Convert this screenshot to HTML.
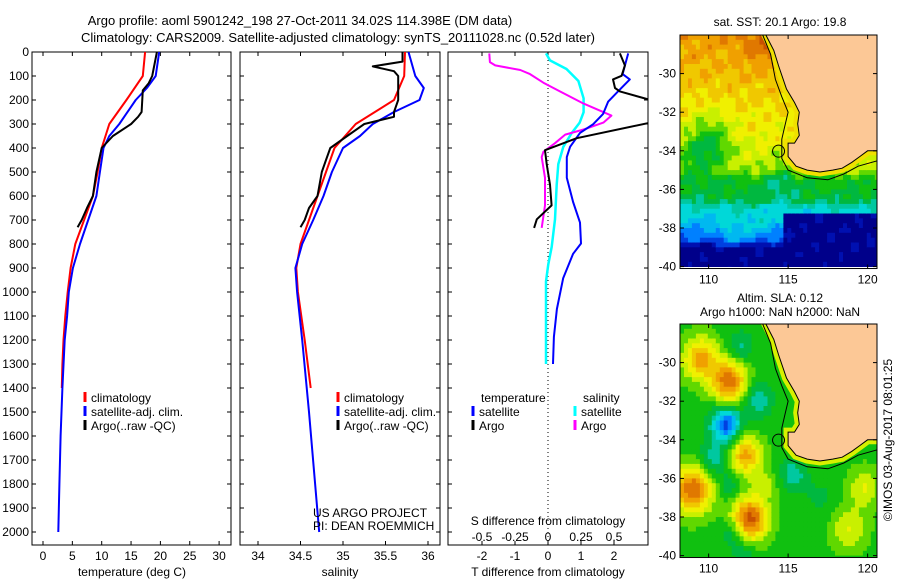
<!DOCTYPE html>
<html><head><meta charset="utf-8">
<style>
html,body{margin:0;padding:0;background:#fff;}
svg{display:block;font-family:"Liberation Sans",sans-serif;}
</style></head>
<body>
<svg id="chart" width="900" height="580" viewBox="0 0 900 580" xmlns="http://www.w3.org/2000/svg">
<defs>
<clipPath id="c1"><rect x="32" y="52" width="199" height="493"/></clipPath>
<clipPath id="c2"><rect x="240" y="52" width="200" height="493"/></clipPath>
<clipPath id="c3"><rect x="448" y="52" width="200" height="493"/></clipPath>
<clipPath id="cm1"><rect x="680" y="35" width="197" height="232"/></clipPath>
<clipPath id="cm2"><rect x="680" y="324" width="197" height="233"/></clipPath>
</defs>
<g font-size="13" text-anchor="middle" fill="#000">
<text x="300" y="25">Argo profile: aoml 5901242_198 27-Oct-2011 34.02S 114.398E (DM data)</text>
<text x="338" y="42">Climatology: CARS2009. Satellite-adjusted climatology: synTS_20111028.nc (0.52d later)</text>
</g>
<g id="p1"></g>
<g id="p2"></g>
<g id="p3"></g>
<g id="m1"></g>
<g id="m2"></g>
<text x="0" y="0" font-size="12" text-anchor="middle" transform="translate(892,440) rotate(-90)">©IMOS 03-Aug-2017 08:01:25</text>
</svg>
<script>
// ---- data ----
const depthTicks=[0,100,200,300,400,500,600,700,800,900,1000,1100,1200,1300,1400,1500,1600,1700,1800,1900,2000];
const tempTicks=[0,5,10,15,20,25,30];
const salTicks=[34,34.5,35,35.5,36];
const tdiffTicks=[-2,-1,0,1,2];
const sdiffTicks=[-0.5,-0.25,0,0.25,0.5];
const sdiffTickLabels=["-0.5","-0.25","0","0.25","0.5"];

const climTempDepth=[0,100,200,300,400,500,600,700,800,900,1000,1100,1200,1300,1400];
const climTemp=[17.4,17,14.2,11.3,10,9.3,8.5,7,5.5,4.7,4.2,3.8,3.5,3.3,3.2];
const satTempDepth=[0,100,150,200,300,350,400,500,600,700,800,900,1000,1100,1200,1400,1600,1800,2000];
const satTemp=[19.8,19.2,17.7,15.8,13,11.3,10.3,9.7,9.1,7.7,6.3,5.1,4.4,4.1,3.7,3.3,3,2.8,2.6];
const argoTempDepth=[0,100,130,160,250,270,300,350,400,500,600,650,700,730];
const argoTemp=[19.4,18.6,18,17,16.8,16.2,15,11.9,10,9.1,8.5,7.5,6.6,5.9];

const climSalDepth=[0,100,200,300,400,500,600,700,800,900,1000,1200,1400];
const climSal=[35.73,35.72,35.6,35.15,34.9,34.8,34.7,34.6,34.5,34.45,34.47,34.55,34.62];
const satSalDepth=[0,100,150,200,250,300,350,400,500,600,700,800,900,1000,1200,1500,2000];
const satSal=[35.77,35.85,35.95,35.9,35.6,35.35,35.2,35.0,34.87,34.77,34.65,34.52,34.44,34.46,34.52,34.6,34.72];
const argoSalDepth=[0,40,60,80,100,150,200,250,270,300,350,400,450,500,600,650,700,730];
const argoSal=[35.7,35.7,35.35,35.6,35.65,35.65,35.65,35.6,35.6,35.25,35.05,34.85,34.8,34.75,34.7,34.6,34.55,34.5];

const satTdiffDepth=[6,92,114,164,207,258,301,337,395,438,524,625,711,798,841,942,1071,1187,1300];
const satTdiff=[2.43,2.26,2.48,2.12,1.82,1.67,1.37,0.97,0.67,0.57,0.57,0.76,0.97,1.0,0.76,0.46,0.27,0.18,0.15];
const argoTdiffDepth=[6,56,99,114,150,164,200,240,270,294,359,409,467,553,639,697,733];
const argoTdiff=[2.18,2.33,2.23,1.97,2.03,2.18,3.1,4.5,4.5,3.1,0.87,-0.09,-0.04,0.06,0.11,-0.34,-0.42];
const satSdiffDepth=[6,35,71,121,193,251,294,337,395,467,553,697,812,884,956,1100,1300];
const satSdiff=[-0.015,0.015,0.14,0.23,0.27,0.27,0.24,0.18,0.116,0.078,0.066,0.053,0.028,0.002,-0.015,-0.015,-0.015];
const argoSdiffDepth=[6,42,56,75,92,128,164,215,265,294,323,344,380,416,438,524,639,733];
const argoSdiff=[-0.445,-0.44,-0.40,-0.21,-0.136,-0.035,0.09,0.27,0.48,0.42,0.27,0.13,0.053,-0.035,-0.048,-0.023,-0.023,-0.048];

const latTicks=[-30,-32,-34,-36,-38,-40];
const lonTicks=[110,115,120];
const argoLon=114.398, argoLat=-34.02;

// ---- helpers ----
const NS="http://www.w3.org/2000/svg";
const YB=545;
function mk(tag,attrs,parent){const e=document.createElementNS(NS,tag);for(const k in attrs)e.setAttribute(k,attrs[k]);parent.appendChild(e);return e;}
const yD=d=>52+d*0.24;
const xT=t=>43+t*5.87;
const xS=s=>258+(s-34)*85;
const xTd=v=>548+v*33;
const xSd=v=>548+v*132;

function frame(g,x0,x1){
  const r=mk('rect',{x:x0,y:52,width:x1-x0,height:YB-52,fill:'none',stroke:'#000','stroke-width':1},g);
  
  
  depthTicks.forEach(d=>{
    mk('line',{x1:x0,x2:x0+4,y1:yD(d),y2:yD(d),stroke:'#000'},g);
    mk('line',{x1:x1-4,x2:x1,y1:yD(d),y2:yD(d),stroke:'#000'},g);
  });
}
function xticks(g,ticks,labels,xf,y,name){
  ticks.forEach((t,i)=>{
    mk('line',{x1:xf(t),x2:xf(t),y1:YB-4,y2:YB,stroke:'#000'},g);
    mk('line',{x1:xf(t),x2:xf(t),y1:52,y2:56,stroke:'#000'},g);
    const tx=mk('text',{x:xf(t),y:y,'font-size':12,'text-anchor':'middle'},g);
    tx.textContent=labels[i];
    
    
  });
}
function series(g,depths,vals,xf,color,w,clip,name){
  const pts=depths.map((d,i)=>xf(vals[i]).toFixed(1)+','+yD(d).toFixed(1)).join(' ');
  const p=mk('polyline',{points:pts,fill:'none',stroke:color,'stroke-width':w,'clip-path':'url(#'+clip+')','stroke-linejoin':'round'},g);
  
  
}
function label(g,x,y,txt,name,anchor,size){
  const t=mk('text',{x:x,y:y,'font-size':size||12,'text-anchor':anchor||'start'},g);
  t.textContent=txt;
  
  
  return t;
}
function legend(g,x,y,color,txt,name){
  const l=mk('line',{x1:x,x2:x,y1:y-10,y2:y,stroke:color,'stroke-width':3},g);
  
  
  label(g,x+6,y,txt,name);
}

// ---- panel 1 ----
const p1=document.getElementById('p1');
frame(p1,32,231);
depthTicks.forEach(d=>label(p1,29,yD(d)+4,String(d),'depth-tick-label','end'));
xticks(p1,tempTicks,tempTicks.map(String),xT,560,'temperature-tick-label');
series(p1,climTempDepth,climTemp,xT,'#f00',2,'c1','climatology-temperature-line');
series(p1,satTempDepth,satTemp,xT,'#00f',2,'c1','satellite-temperature-line');
series(p1,argoTempDepth,argoTemp,xT,'#000',2,'c1','argo-temperature-line');
label(p1,132,576,'temperature (deg C)','x-axis-title-temperature','middle');
legend(p1,85,402,'#f00','climatology','legend-climatology');
legend(p1,85,416,'#00f','satellite-adj. clim.','legend-satellite');
legend(p1,85,430,'#000','Argo(..raw -QC)','legend-argo');

// ---- panel 2 ----
const p2=document.getElementById('p2');
frame(p2,240,440);
xticks(p2,salTicks,salTicks.map(String),xS,560,'salinity-tick-label');
series(p2,climSalDepth,climSal,xS,'#f00',2,'c2','climatology-salinity-line');
series(p2,satSalDepth,satSal,xS,'#00f',2,'c2','satellite-salinity-line');
series(p2,argoSalDepth,argoSal,xS,'#000',2,'c2','argo-salinity-line');
label(p2,340,576,'salinity','x-axis-title-salinity','middle');
legend(p2,338,402,'#f00','climatology','legend-climatology');
legend(p2,338,416,'#00f','satellite-adj. clim.','legend-satellite');
legend(p2,338,430,'#000','Argo(..raw -QC)','legend-argo');
label(p2,313,517,'US ARGO PROJECT','project-credit');
label(p2,313,530,'PI: DEAN ROEMMICH','pi-credit');

// ---- panel 3 ----
const p3=document.getElementById('p3');
frame(p3,448,648);
mk('line',{x1:548,x2:548,y1:52,y2:YB,stroke:'#000','stroke-dasharray':'1,3'},p3);
xticks(p3,tdiffTicks,tdiffTicks.map(String),xTd,560,'tdiff-tick-label');
sdiffTicks.forEach((t,i)=>label(p3,xSd(t),541,sdiffTickLabels[i],'sdiff-tick-label','middle'));
label(p3,548,525,'S difference from climatology','sdiff-axis-title','middle');
label(p3,548,576,'T difference from climatology','tdiff-axis-title','middle');
series(p3,satSdiffDepth,satSdiff,xSd,'#0ff',2.5,'c3','satellite-salinity-diff-line');
series(p3,argoSdiffDepth,argoSdiff,xSd,'#f0f',2,'c3','argo-salinity-diff-line');
series(p3,satTdiffDepth,satTdiff,xTd,'#00f',2,'c3','satellite-temperature-diff-line');
series(p3,argoTdiffDepth,argoTdiff,xTd,'#000',2,'c3','argo-temperature-diff-line');
label(p3,481,402,'temperature','legend-temperature-heading');
label(p3,583,402,'salinity','legend-salinity-heading');
legend(p3,473,416,'#00f','satellite','legend-temp-satellite');
legend(p3,473,430,'#000','Argo','legend-temp-argo');
legend(p3,575,416,'#0ff','satellite','legend-sal-satellite');
legend(p3,575,430,'#f0f','Argo','legend-sal-argo');

// ---- maps ----
const cmap=['#00008a','#0010b0','#0040e0','#0080ff','#00b8f0','#00d8d8','#00c8a0','#00b840','#10c010','#60d800','#c8f000','#f0f000','#f0c800','#f0a000','#e07800','#c85000'];
function colorAt(v){v=Math.max(0,Math.min(0.999,v));return cmap[Math.floor(v*cmap.length)];}
const coast=[[113.6,-28],[114.1,-28.8],[114.4,-29.6],[114.9,-30.8],[115.4,-31.5],[115.7,-32],[115.6,-32.6],[115.7,-33.2],[115.4,-33.6],[115.0,-33.6],[115.0,-34.3],[115.5,-34.8],[116.2,-35.0],[117.0,-35.1],[117.8,-35.0],[118.4,-34.9],[119.0,-34.6],[119.5,-34.3],[120.0,-34.0],[120.7,-34.0],[120.7,-28]];
const shelf=[[113.4,-28],[113.9,-29],[114.2,-30.3],[114.6,-31.2],[115.0,-32],[114.8,-32.7],[114.6,-33.4],[114.6,-34.4],[115.0,-35.0],[116.2,-35.4],[117.5,-35.5],[118.5,-35.2],[119.4,-34.8],[120.7,-34.5]];
function gauss(lon,lat,blobs){let s=0;blobs.forEach(b=>{const dx=(lon-b[0])/b[2],dy=(lat-b[1])/b[2];s+=b[3]*Math.exp(-(dx*dx+dy*dy));});return s;}
const sstLatKnots=[-28,-30,-32,-33.5,-35,-35.5,-36.5,-37,-38,-38.7,-39,-40.5];
const sstLatVals=[0.86,0.8,0.74,0.7,0.64,0.52,0.48,0.36,0.26,0.16,0.03,0.02];
function interp(x,xs,ys){for(let i=0;i<xs.length-1;i++){if(x<=xs[i]&&x>=xs[i+1]){const f=(xs[i]-x)/(xs[i]-xs[i+1]);return ys[i]+f*(ys[i+1]-ys[i]);}}return ys[ys.length-1];}
const sstBlobs=[[113.4,-28.5,1.2,0.08],[110,-33.6,1.4,-0.2],[109,-34.5,1.0,-0.08],[114.5,-35.6,1.0,-0.1],[111.5,-38.3,0.9,0.08],[113.2,-38.0,0.7,0.06]];
function sstVal(lon,lat){
  let v=interp(lat,sstLatKnots,sstLatVals);
  if(lon>114.8 && lat<-37.3) v=Math.min(v,0.04);
  v+=gauss(lon,lat,sstBlobs)+0.025*Math.sin(lon*5.1+lat*3.3)+0.025*Math.cos(lat*4.7-lon*2.2);
  return v;
}
const slaBlobs=[[109.5,-29.8,1.1,0.3],[111.3,-31.0,1.1,0.38],[109.0,-36.6,1.2,0.4],[112.6,-38.1,1.1,0.42],[112.3,-34.8,1.0,0.3],[119.8,-36.5,1.0,0.15],[118.8,-38.6,1.1,0.15],[113.5,-36.3,0.8,0.1],[111.1,-33.2,0.9,-0.38],[110.3,-35.0,0.9,-0.15],[115.3,-35.8,0.8,-0.15],[113.1,-31.9,0.9,-0.15],[112.0,-29.2,0.8,-0.12],[111.3,-36.4,0.7,-0.1],[111.5,-38.8,0.7,-0.12],[112.2,-39.9,0.7,-0.1],[117,-37,1.2,-0.05]];
function slaVal(lon,lat){return 0.54+gauss(lon,lat,slaBlobs);}
function drawMap(g,y0,valFn,clip,titleLines,coastStrip){
  const X=lon=>680+(lon-108.2)*15.9, Y=lat=>y0+(-28-lat)*19.3;
  const field=mk('g',{'clip-path':'url(#'+clip+')'},g);
  
  
  const step=0.25;
  for(let lon=108.2;lon<120.7;lon+=step){for(let lat=-28;lat>-40.2;lat-=step){
    mk('rect',{x:X(lon).toFixed(1),y:Y(lat).toFixed(1),width:(step*15.9+0.6).toFixed(1),height:(step*19.3+0.6).toFixed(1),fill:colorAt(valFn(lon+step/2,lat-step/2))},field);
  }}
  const cp=coast.map(p=>X(p[0]).toFixed(1)+','+Y(p[1]).toFixed(1)).join(' ');
  mk('polygon',{points:cp,fill:coastStrip,stroke:coastStrip,'stroke-width':9,'clip-path':'url(#'+clip+')'},g);
  const land=mk('polygon',{points:cp,fill:'#fcc896',stroke:'#000','stroke-width':1,'clip-path':'url(#'+clip+')'},g);
  
  
  const sp=shelf.map(p=>X(p[0]).toFixed(1)+','+Y(p[1]).toFixed(1)).join(' ');
  mk('polyline',{points:sp,fill:'none',stroke:'#000','stroke-width':1,'clip-path':'url(#'+clip+')'},g);
  const c=mk('circle',{cx:X(argoLon),cy:Y(argoLat),r:6,fill:'none',stroke:'#000'},g);
  
  
  const h=Y(-40.1)-y0;
  mk('rect',{x:680,y:y0,width:197,height:h,fill:'none',stroke:'#000'},g);
  latTicks.forEach(l=>{
    mk('line',{x1:680,x2:684,y1:Y(l),y2:Y(l),stroke:'#000'},g);
    mk('line',{x1:873,x2:877,y1:Y(l),y2:Y(l),stroke:'#000'},g);
    label(g,676,Y(l)+4,String(l),'latitude-tick-label','end');
  });
  lonTicks.forEach(l=>{
    mk('line',{x1:X(l),x2:X(l),y1:y0,y2:y0+4,stroke:'#000'},g);
    mk('line',{x1:X(l),x2:X(l),y1:y0+h-4,y2:y0+h,stroke:'#000'},g);
    label(g,X(l),y0+h+15,String(l),'longitude-tick-label','middle');
  });
  titleLines.forEach((t,i)=>label(g,780,t[1],t[0],'map-title','middle'));
}
drawMap(document.getElementById('m1'),35,sstVal,'cm1',[['sat. SST: 20.1 Argo: 19.8',26]],'#f0e000');
drawMap(document.getElementById('m2'),324,slaVal,'cm2',[['Altim. SLA: 0.12',302],['Argo h1000: NaN h2000: NaN',316]],'#d8f000');
</script>
</body></html>
